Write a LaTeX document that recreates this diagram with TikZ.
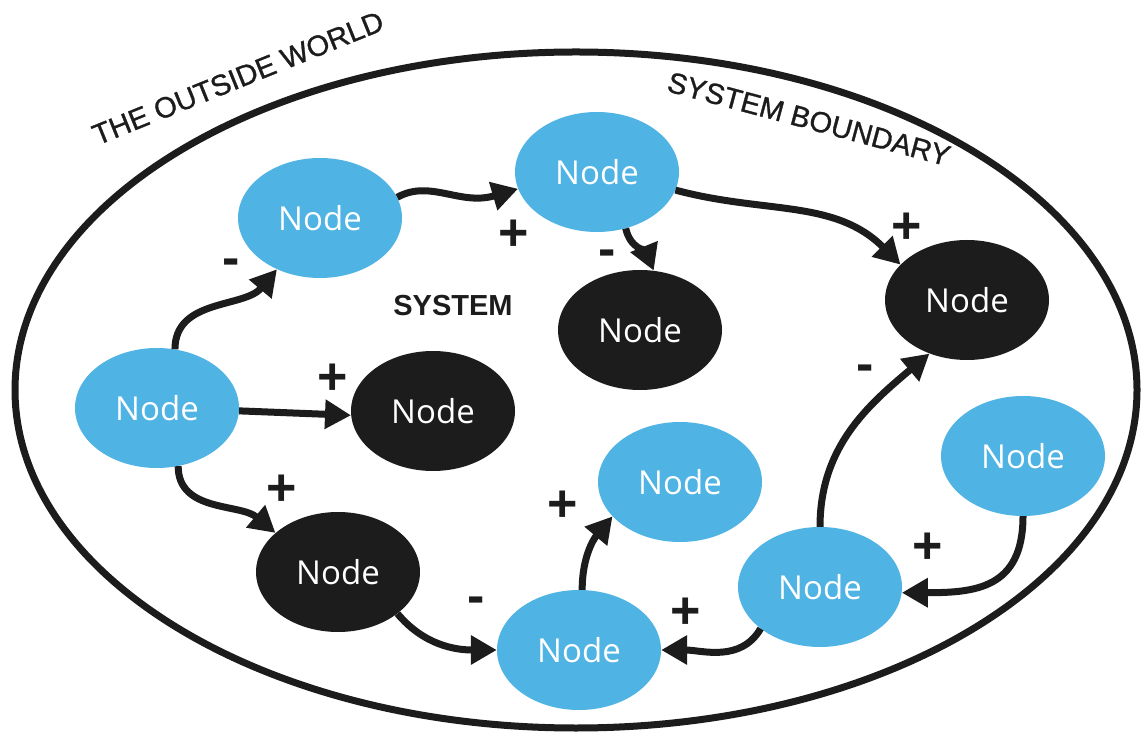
\documentclass[tikz,border=0pt]{standalone}
\usepackage{fontspec}
\setmainfont{Liberation Sans}
\newfontfamily\nodefont{Open Sans}
\newfontfamily\capfont[FakeBold=1]{Liberation Sans}
\usetikzlibrary{arrows.meta,shapes.geometric}
\definecolor{sky}{RGB}{79,179,227}
\definecolor{ink}{RGB}{28,28,28}

\begin{document}
\begin{tikzpicture}[x=1pt,y=1pt,
  blob/.style={ellipse,minimum width=164pt,minimum height=120pt,inner sep=0pt,
    text=white,font=\nodefont\fontsize{33}{40}\selectfont},
  bnode/.style={blob,fill=sky},
  knode/.style={blob,fill=ink},
  link/.style={line width=7pt,draw=ink,-{Triangle[length=26pt,width=28pt]}},
  pm/.style={font=\bfseries\fontsize{52}{60}\selectfont,text=ink,inner sep=0pt}]
  \useasboundingbox (0,0) rectangle (1142,731);
  \draw[line width=7pt,ink](576,341) ellipse[x radius=561,y radius=338];
  \node[rotate=22,font=\capfont\fontsize{29}{32}\selectfont,text=ink](tw) at (238,653) {THE OUTSIDE WORLD};
  \node[rotate=-15,font=\capfont\fontsize{29}{32}\selectfont,text=ink](sb) at (809,612) {SYSTEM BOUNDARY};
  \node[font=\bfseries\fontsize{29}{32}\selectfont,text=ink](sy) at (453,425) {SYSTEM};

  \node[bnode](n1) at (320,513) {Node};
  \node[bnode](n2) at (597,559) {Node};
  \node[knode](n3) at (640,401) {Node};
  \node[knode](n4) at (967,431) {Node};
  \node[bnode](n5) at (157,323) {Node};
  \node[knode](n6) at (433,320) {Node};
  \node[bnode](n7) at (680,249) {Node};
  \node[bnode](n8) at (1023,275) {Node};
  \node[knode](n9) at (338,159) {Node};
  \node[bnode](n10) at (820,144) {Node};
  \node[bnode](n11) at (579,81) {Node};

  \draw[link](n5.73) to[out=90,in=230] (n1.230);
  \draw[link](n1.15) .. controls (430,552) and (460,525) .. (n2.192);
  \draw[link](n2.297) to[out=-78,in=112] (n3.77);
  \draw[link](n2.-13) to[out=-15,in=135] (n4.152);
  \draw[link](n5.-2) -- (n6.183);
  \draw[link](n5.-70) to[out=-90,in=140] (n9.148);
  \draw[link](n9.-35) to[out=-50,in=180] (n11.west);
  \draw[link](n11.87) to[out=90,in=230] (n7.207);
  \draw[link](n10.215) to[out=-120,in=0] (n11.east);
  \draw[link](n10.north) to[out=90,in=220] (n4.235);
  \draw[link](n8.south) to[out=-90,in=0,looseness=1.3] (n10.-4);

  \node[pm](m1) at (231,464) {-};
  \node[pm](p1) at (514,496) {+};
  \node[pm](m2) at (607,473) {-};
  \node[pm](p2) at (907,503) {+};
  \node[pm](p3) at (333,352) {+};
  \node[pm](p4) at (282,241) {+};
  \node[pm](m3) at (476,126) {-};
  \node[pm](p5) at (563,225) {+};
  \node[pm](p6) at (686,118) {+};
  \node[pm](m4) at (865,358) {-};
  \node[pm](p7) at (928,183) {+};
\end{tikzpicture}
\end{document}
